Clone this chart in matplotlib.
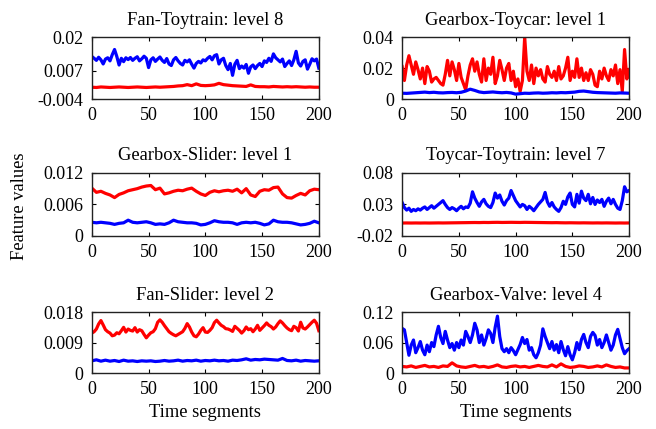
import numpy as np
import matplotlib
matplotlib.use("Agg")
import matplotlib.pyplot as plt

plt.rcParams['font.family'] = ['Liberation Serif', 'DejaVu Serif']
plt.rcParams['font.size'] = 13

# ---- data (x = time segment 0..200) ----
# Fan-Toytrain: level 8
ft_blue = [0.0125, 0.0118, 0.0110, 0.0122, 0.0112, 0.0096, 0.0115, 0.0120, 0.0108, 0.0132,
           0.0152, 0.0125, 0.0092, 0.0118, 0.0105, 0.0120, 0.0113, 0.0121, 0.0110, 0.0118,
           0.0124, 0.0108, 0.0116, 0.0126, 0.0118, 0.0082, 0.0112, 0.0120, 0.0106, 0.0115,
           0.0123, 0.0110, 0.0102, 0.0117, 0.0096, 0.0090, 0.0112, 0.0121, 0.0108, 0.0098,
           0.0092, 0.0110, 0.0104, 0.0112, 0.0095, 0.0080, 0.0098, 0.0106, 0.0100, 0.0112,
           0.0108, 0.0118, 0.0125, 0.0112, 0.0128, 0.0132, 0.0096, 0.0112, 0.0118, 0.0090,
           0.0074, 0.0098, 0.0052, 0.0095, 0.0110, 0.0078, 0.0088, 0.0080, 0.0094, 0.0060,
           0.0085, 0.0092, 0.0078, 0.0090, 0.0098, 0.0086, 0.0108, 0.0102, 0.0118, 0.0106,
           0.0135, 0.0120, 0.0112, 0.0104, 0.0115, 0.0086, 0.0098, 0.0108, 0.0090, 0.0112,
           0.0145, 0.0100, 0.0088, 0.0106, 0.0112, 0.0076, 0.0095, 0.0116, 0.0108, 0.0115,
           0.0080]
ft_red = [0.0006, 0.0005, 0.0007, 0.0006, 0.0005, 0.0006, 0.0007, 0.0006, 0.0005, 0.0006,
          0.0007, 0.0006, 0.0005, 0.0006, 0.0007, 0.0006, 0.0007, 0.0008, 0.0009, 0.0011,
          0.0012, 0.0016, 0.0012, 0.0019, 0.0013, 0.0012, 0.0013, 0.0015, 0.0021, 0.0016,
          0.0014, 0.0012, 0.0011, 0.0010, 0.0009, 0.0015, 0.0009, 0.0008, 0.0008, 0.0007,
          0.0009, 0.0008, 0.0007, 0.0008, 0.0007, 0.0008, 0.0007, 0.0006, 0.0007, 0.0006,
          0.0006]

# Gearbox-Toycar: level 1
gt_red = [0.021, 0.012, 0.022, 0.028, 0.022, 0.016, 0.024, 0.019, 0.013, 0.020,
          0.010, 0.021, 0.018, 0.011, 0.013, 0.014, 0.012, 0.010, 0.009, 0.016,
          0.025, 0.015, 0.024, 0.019, 0.012, 0.023, 0.014, 0.010, 0.006, 0.015,
          0.022, 0.026, 0.018, 0.024, 0.016, 0.011, 0.026, 0.012, 0.020, 0.016,
          0.027, 0.010, 0.015, 0.025, 0.019, 0.012, 0.020, 0.023, 0.012, 0.018,
          0.008, 0.013, 0.005, 0.012, 0.040, 0.018, 0.012, 0.022, 0.010, 0.020,
          0.015, 0.019, 0.013, 0.011, 0.021, 0.016, 0.014, 0.018, 0.012, 0.021,
          0.013, 0.015, 0.020, 0.027, 0.012, 0.018, 0.014, 0.026, 0.014, 0.020,
          0.012, 0.017, 0.012, 0.019, 0.016, 0.009, 0.008, 0.018, 0.013, 0.020,
          0.015, 0.012, 0.019, 0.015, 0.022, 0.010, 0.019, 0.005, 0.032, 0.013,
          0.019]
gt_blue = [0.0038, 0.0037, 0.0039, 0.0041, 0.0043, 0.0045, 0.0042, 0.0044, 0.0041, 0.0040,
           0.0042, 0.0043, 0.0041, 0.0044, 0.0052, 0.0064, 0.0056, 0.0046, 0.0042, 0.0044,
           0.0046, 0.0043, 0.0041, 0.0043, 0.0040, 0.0032, 0.0035, 0.0038, 0.0037, 0.0039,
           0.0040, 0.0038, 0.0039, 0.0041, 0.0040, 0.0042, 0.0041, 0.0043, 0.0045, 0.0050,
           0.0052, 0.0048, 0.0044, 0.0042, 0.0041, 0.0040, 0.0039, 0.0038, 0.0040, 0.0039,
           0.0038]

# Gearbox-Slider: level 1
gs_red = [0.0091, 0.0083, 0.0085, 0.0081, 0.0078, 0.0073, 0.0079, 0.0082, 0.0086, 0.0088,
          0.0090, 0.0093, 0.0095, 0.0096, 0.0088, 0.0091, 0.0080, 0.0082, 0.0085, 0.0087,
          0.0086, 0.0089, 0.0091, 0.0085, 0.0080, 0.0077, 0.0083, 0.0086, 0.0084, 0.0086,
          0.0087, 0.0085, 0.0089, 0.0082, 0.0090, 0.0078, 0.0075, 0.0085, 0.0088, 0.0087,
          0.0092, 0.0093, 0.0080, 0.0073, 0.0072, 0.0077, 0.0081, 0.0078, 0.0086, 0.0089,
          0.0088]
gs_blue = [0.0026, 0.0025, 0.0026, 0.0025, 0.0024, 0.0022, 0.0024, 0.0025, 0.0030, 0.0026,
           0.0025, 0.0026, 0.0027, 0.0025, 0.0022, 0.0023, 0.0022, 0.0025, 0.0030, 0.0027,
           0.0026, 0.0025, 0.0025, 0.0024, 0.0021, 0.0022, 0.0025, 0.0029, 0.0027, 0.0026,
           0.0026, 0.0025, 0.0022, 0.0025, 0.0026, 0.0025, 0.0026, 0.0024, 0.0021, 0.0023,
           0.0030, 0.0027, 0.0026, 0.0026, 0.0025, 0.0023, 0.0021, 0.0022, 0.0024, 0.0028,
           0.0025]

# Toycar-Toytrain: level 7
tt_blue = [0.033, 0.025, 0.021, 0.024, 0.019, 0.022, 0.020, 0.023, 0.021, 0.024,
           0.026, 0.022, 0.025, 0.028, 0.024, 0.027, 0.030, 0.033, 0.036, 0.030,
           0.025, 0.022, 0.025, 0.023, 0.020, 0.024, 0.027, 0.023, 0.026, 0.025,
           0.032, 0.050, 0.040, 0.033, 0.027, 0.034, 0.038, 0.031, 0.027, 0.025,
           0.033, 0.048, 0.040, 0.045, 0.035, 0.029, 0.036, 0.040, 0.052, 0.044,
           0.036, 0.031, 0.026, 0.030, 0.028, 0.022, 0.027, 0.024, 0.020, 0.025,
           0.030, 0.034, 0.038, 0.049, 0.034, 0.027, 0.033, 0.026, 0.022, 0.019,
           0.025, 0.035, 0.030, 0.042, 0.048, 0.030, 0.026, 0.046, 0.032, 0.051,
           0.040, 0.036, 0.046, 0.031, 0.041, 0.030, 0.037, 0.033, 0.038, 0.027,
           0.035, 0.040, 0.031, 0.038, 0.030, 0.024, 0.022, 0.036, 0.058, 0.050,
           0.052]
tt_red = [0.0005, 0.0006, 0.0005, 0.0006, 0.0005, 0.0006, 0.0005, 0.0006, 0.0007, 0.0006,
          0.0007, 0.0008, 0.0009, 0.0010, 0.0011, 0.0012, 0.0013, 0.0012, 0.0014, 0.0013,
          0.0015, 0.0016, 0.0014, 0.0015, 0.0016, 0.0015, 0.0014, 0.0016, 0.0015, 0.0014,
          0.0013, 0.0012, 0.0011, 0.0010, 0.0011, 0.0009, 0.0008, 0.0009, 0.0008, 0.0007,
          0.0008, 0.0007, 0.0006, 0.0007, 0.0006, 0.0007, 0.0006, 0.0005, 0.0006, 0.0005,
          0.0006]

# Fan-Slider: level 2
fs_red = [0.0118, 0.0122, 0.0130, 0.0145, 0.0155, 0.0142, 0.0128, 0.0122, 0.0118, 0.0110,
          0.0112, 0.0119, 0.0116, 0.0125, 0.0135, 0.0121, 0.0130, 0.0126, 0.0124, 0.0134,
          0.0121, 0.0128, 0.0125, 0.0114, 0.0104, 0.0112, 0.0119, 0.0122, 0.0131, 0.0150,
          0.0157, 0.0150, 0.0140, 0.0131, 0.0122, 0.0117, 0.0113, 0.0110, 0.0114, 0.0118,
          0.0122, 0.0132, 0.0146, 0.0136, 0.0121, 0.0110, 0.0107, 0.0115, 0.0126, 0.0134,
          0.0121, 0.0120, 0.0126, 0.0134, 0.0149, 0.0156, 0.0148, 0.0141, 0.0137, 0.0131,
          0.0130, 0.0127, 0.0123, 0.0138, 0.0132, 0.0126, 0.0118, 0.0125, 0.0136, 0.0128,
          0.0131, 0.0122, 0.0130, 0.0141, 0.0126, 0.0133, 0.0140, 0.0148, 0.0141, 0.0137,
          0.0130, 0.0136, 0.0146, 0.0154, 0.0148, 0.0140, 0.0133, 0.0128, 0.0125, 0.0138,
          0.0134, 0.0124, 0.0150, 0.0133, 0.0130, 0.0136, 0.0143, 0.0150, 0.0156, 0.0147,
          0.0125]
fs_blue = [0.0036, 0.0039, 0.0035, 0.0038, 0.0035, 0.0037, 0.0034, 0.0038, 0.0035, 0.0036,
           0.0034, 0.0036, 0.0035, 0.0036, 0.0034, 0.0035, 0.0037, 0.0035, 0.0036, 0.0038,
           0.0035, 0.0037, 0.0036, 0.0038, 0.0035, 0.0037, 0.0036, 0.0038, 0.0036, 0.0037,
           0.0035, 0.0038, 0.0037, 0.0039, 0.0042, 0.0038, 0.0040, 0.0039, 0.0041, 0.0040,
           0.0039, 0.0038, 0.0043, 0.0037, 0.0036, 0.0038, 0.0035, 0.0037, 0.0036, 0.0035,
           0.0036]

# Gearbox-Valve: level 4
gv_blue = [0.088, 0.085, 0.060, 0.035, 0.055, 0.065, 0.040, 0.050, 0.062, 0.045,
           0.036, 0.055, 0.042, 0.060, 0.052, 0.075, 0.092, 0.070, 0.058, 0.082,
           0.065, 0.050, 0.058, 0.045, 0.060, 0.050, 0.065, 0.055, 0.082, 0.072,
           0.060, 0.075, 0.098, 0.085, 0.060, 0.075, 0.055, 0.068, 0.085, 0.078,
           0.060, 0.090, 0.112, 0.072, 0.048, 0.042, 0.048, 0.040, 0.050, 0.044,
           0.036, 0.046, 0.056, 0.070, 0.058, 0.066, 0.045, 0.050, 0.036, 0.030,
           0.040, 0.055, 0.087, 0.072, 0.060, 0.048, 0.062, 0.045, 0.056, 0.040,
           0.062, 0.046, 0.034, 0.052, 0.036, 0.026, 0.040, 0.060, 0.046, 0.066,
           0.076, 0.060, 0.050, 0.072, 0.080, 0.074, 0.055, 0.066, 0.050, 0.060,
           0.075, 0.060, 0.045, 0.055, 0.075, 0.086, 0.068, 0.050, 0.038, 0.044,
           0.048]
gv_red = [0.013, 0.012, 0.014, 0.011, 0.013, 0.015, 0.012, 0.013, 0.011, 0.014,
          0.013, 0.020, 0.014, 0.012, 0.011, 0.013, 0.015, 0.012, 0.013, 0.011,
          0.013, 0.016, 0.012, 0.011, 0.013, 0.014, 0.012, 0.013, 0.011, 0.013,
          0.015, 0.013, 0.012, 0.016, 0.012, 0.018, 0.013, 0.011, 0.012, 0.014,
          0.013, 0.011, 0.012, 0.014, 0.012, 0.016, 0.013, 0.011, 0.012, 0.010,
          0.010]

titles = ['Fan-Toytrain: level 8', 'Gearbox-Toycar: level 1',
          'Gearbox-Slider: level 1', 'Toycar-Toytrain: level 7',
          'Fan-Slider: level 2', 'Gearbox-Valve: level 4']
series = [(ft_red, ft_blue), (gt_red, gt_blue),
          (gs_red, gs_blue), (tt_red, tt_blue),
          (fs_red, fs_blue), (gv_red, gv_blue)]
yticks = [[-0.004, 0.007, 0.02], [0, 0.02, 0.04],
          [0, 0.006, 0.012], [-0.02, 0.03, 0.08],
          [0, 0.009, 0.018], [0, 0.06, 0.12]]
ytick_labels = [['-0.004', '0.007', '0.02'], ['0', '0.02', '0.04'],
                ['0', '0.006', '0.012'], ['-0.02', '0.03', '0.08'],
                ['0', '0.009', '0.018'], ['0', '0.06', '0.12']]
xticks = [0, 50, 100, 150, 200]

fig = plt.figure(figsize=(6.56, 4.29), dpi=100)

lefts = [0.140, 0.613]
bottoms = [0.769, 0.450, 0.1305]
heights = [0.1445, 0.147, 0.142]
w = 0.346

for k in range(6):
    r, c = divmod(k, 2)
    ax = fig.add_axes([lefts[c], bottoms[r], w, heights[r]])
    red, blue = series[k]
    ax.plot(np.linspace(0, 200, len(red)), red, color='#ff0000', lw=2.3)
    ax.plot(np.linspace(0, 200, len(blue)), blue, color='#0000ff', lw=2.3)
    ax.set_xlim(0, 200)
    ax.set_ylim(yticks[k][0], yticks[k][-1])
    ax.set_xticks(xticks)
    ax.set_yticks(yticks[k])
    ax.set_yticklabels(ytick_labels[k])
    ax.tick_params(direction='in', top=True, right=True, length=3, width=0.8, pad=6)
    for s in ax.spines.values():
        s.set_linewidth(1.0)
        s.set_color('#222222')
    ax.set_title(titles[k], fontsize=13.3, pad=9)
    if r == 2:
        ax.set_xlabel('Time segments', fontsize=13.3, labelpad=4)

fig.text(0.03, 0.52, 'Feature values', rotation=90, va='center', ha='center', fontsize=13.3)

fig.savefig('out.png', dpi=100)
